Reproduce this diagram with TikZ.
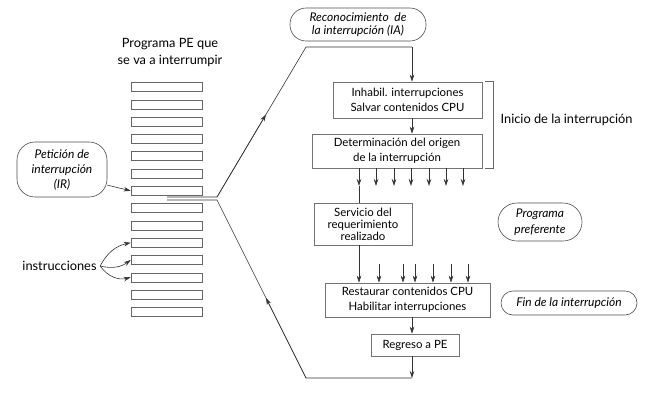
\documentclass[tikz,border=0pt]{standalone}
\usepackage{fontspec}
\setmainfont{Lato}
\usetikzlibrary{arrows.meta,calc,positioning}

\begin{document}
\begin{tikzpicture}[x=1pt,y=-1pt,line width=0.6pt,
  >={Stealth[length=7pt,width=4.5pt]},
  bar/.style={draw=black!60,minimum width=71pt,minimum height=9pt,inner sep=0pt},
  caja/.style={draw=black!55,align=center,inner sep=0pt,font=\fontsize{11.4}{14.5}\selectfont},
  nota/.style={draw=black!70,rounded corners=16pt,align=center,inner sep=0pt,font=\fontsize{12}{13.5}\selectfont\itshape},
  texto/.style={align=center,font=\fontsize{12.8}{17}\selectfont},
  flecha/.style={->,draw=black!80}]
  \useasboundingbox (0,0) rectangle (658,410);

  \node[texto] (pe) at (170,53) {Programa PE que\\se va a interrumpir};
  \foreach \i in {1,...,14}
    \node[bar] (b\i) at (166.5,{87+17.3*(\i-1)}) {};

  \node[nota,rounded corners=18pt,minimum width=90pt,minimum height=55pt,font=\fontsize{12}{15}\selectfont\itshape] (ir) at (62,169.5) {Petición de\\interrupción\\(IR)};
  \node[nota,minimum width=136pt,minimum height=33pt] (ia) at (358,24.5) {Reconocimiento~~de\\la interrupción (IA)};
  \node[caja,minimum width=149pt,minimum height=36pt] (inh) at (407.5,100) {Inhabil. interrupciones\\Salvar contenidos CPU};
  \node[caja,minimum width=170pt,minimum height=34pt] (det) at (397,151) {Determinación del origen\\de la interrupción};
  \node[caja,minimum width=98pt,minimum height=42pt,font=\fontsize{11.4}{12}\selectfont] (serv) at (363,224) {Servicio del\\requerimiento\\realizado};
  \node[caja,minimum width=165pt,minimum height=34pt] (rest) at (407.5,300) {Restaurar contenidos CPU\\Habilitar interrupciones};
  \node[caja,minimum width=88pt,minimum height=22pt] (reg) at (415,345) {Regreso a PE};
  \node[nota,rounded corners=19pt,minimum width=84pt,minimum height=38pt,font=\fontsize{12}{15.5}\selectfont\itshape] (pref) at (540,222) {Programa\\preferente};
  \node[nota,rounded corners=12pt,minimum width=136pt,minimum height=24pt] (fin) at (569,303) {Fin de la interrupción};
  \node[texto,anchor=west] (ini) at (497,120) {Inicio de la interrupción};
  \node[texto] (inst) at (59.5,266) {instrucciones};

  % salida y regreso del programa PE
  \coordinate (j1) at (167,197); \coordinate (j2) at (217,197);
  \coordinate (t1) at (306,47);  \coordinate (t2) at (412,47);
  \coordinate (k1) at (167,200); \coordinate (k2) at (217,200);
  \coordinate (u1) at (306,378); \coordinate (u2) at (412,378);
  \draw[black!80] (j1) -- (j2) -- (t1) -- (t2);
  \draw[flecha] (j2) -- ($(j2)!0.55!(t1)$);
  \draw[flecha] (t2) -- (t2 |- inh.north);
  \draw[black!80] (k1) -- (k2) -- (u1) -- (u2);
  \draw[flecha] (u1) -- ($(u1)!0.45!(k2)$);
  \draw[flecha] (reg.south -| u2) -- (u2);
  \draw[flecha] (inh.south -| t2) -- (det.north -| t2);
  \draw[flecha] (rest.south -| u2) -- (reg.north -| u2);

  \foreach \x [count=\i] in {359,376,394,411,429,446,463} {
    \coordinate (d\i) at (\x,186);
    \draw[flecha] (det.south -| d\i) -- (d\i);
  }
  \draw[black!80] (d1) -- (serv.north -| d1);
  \foreach \x [count=\i] in {359,379,403,415,433,451,468} {
    \coordinate (r\i) at (\x,264);
    \draw[flecha] (r\i) -- (rest.north -| r\i);
  }
  \draw[black!80] (serv.south -| r1) -- (r1);

  \draw[black!60] ($(inh.north east)+(3,0)$) -| ($(det.south east)+(11,0)$) -- ++(-8,0);

  \draw[flecha] (ir.-19) -- (b7.west);
  \draw[flecha] (inst.east) to[bend left=25] (b10.west);
  \draw[flecha] (inst.east) to[bend right=25] (b11.west);
  \draw[flecha] (inst.east) to[bend right=35] (b12.west);
\end{tikzpicture}
\end{document}
